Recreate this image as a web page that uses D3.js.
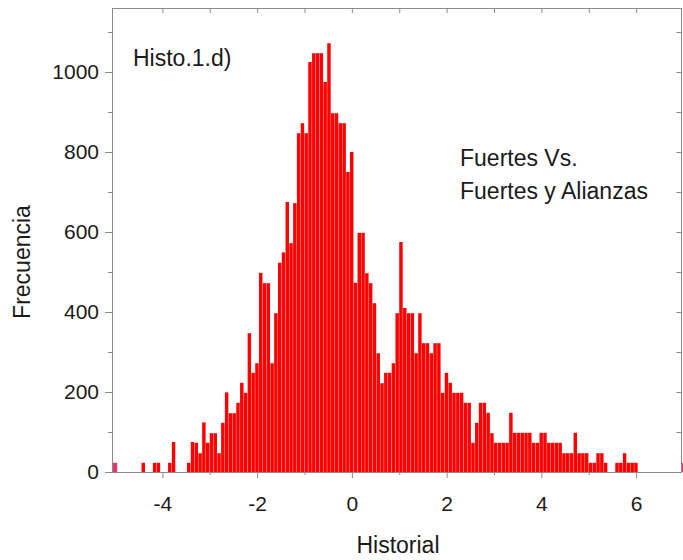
<!DOCTYPE html>
<html>
<head>
<meta charset="utf-8">
<script src="https://cdn.jsdelivr.net/npm/d3@7"></script>
<style>
  html, body { margin: 0; padding: 0; background: #fff; }
  svg { display: block; font-family: "Liberation Sans", Arial, sans-serif; }
</style>
</head>
<body>
<svg id="chart" width="683" height="560"></svg>
<script>
// Histogram: frequency of "Historial" values, bins of width 0.08 starting at -5
const binStart = -5;
const binWidth = 0.08;
const counts = [
  0, 0, 0, 0, 0, 0, 0, 23, 0, 0,
  23, 23, 0, 0, 23, 75, 0, 0, 0, 23,
  75, 73, 47, 124, 73, 97, 97, 47, 123, 199,
  147, 147, 173, 223, 198, 347, 248, 272, 498, 472,
  472, 272, 397, 523, 549, 675, 572, 672, 847, 872,
  847, 1025, 1047, 1047, 1047, 975, 1072, 897, 897, 872,
  872, 750, 800, 473, 598, 598, 497, 472, 422, 297,
  222, 248, 248, 272, 397, 575, 410, 397, 397, 297,
  397, 322, 322, 297, 322, 322, 198, 248, 223, 198,
  198, 198, 173, 173, 73, 123, 173, 173, 148, 97,
  73, 73, 73, 73, 148, 98, 98, 98, 98, 98,
  73, 73, 98, 98, 73, 73, 73, 73, 47, 47,
  47, 98, 47, 47, 47, 23, 23, 47, 47, 23,
  0, 0, 23, 23, 47, 23, 23, 23
];
// Out-of-range counts shown at both ends of the axis
const edgeX = [-5, 7];
const edgeCounts = [23, 23];

const xTicks = [-4, -2, 0, 2, 4, 6];
const xMinorTicks = [-5, -3, -1, 1, 3, 5, 7];
const yTicks = [0, 200, 400, 600, 800, 1000];
const yMinorTicks = [100, 300, 500, 700, 900, 1100];

const title = "Histo.1.d)";
const noteLines = ["Fuertes Vs.", "Fuertes y Alianzas"];
const xLabel = "Historial";
const yLabel = "Frecuencia";

const svg = d3.select("#chart");
const frame = { left: 112, right: 682, top: 8, bottom: 472 };

const x = d3.scaleLinear().domain([-5, 7]).range([115, 683.5]);
const y = d3.scaleLinear().domain([0, 1160]).range([frame.bottom, frame.top]);

const bins = counts.map((c, i) => ({
  x0: binStart + i * binWidth,
  x1: binStart + (i + 1) * binWidth,
  count: c
})).filter(d => d.count > 0);

svg.append("defs").append("clipPath").attr("id", "plotClip")
  .append("rect")
  .attr("x", frame.left).attr("y", frame.top)
  .attr("width", 683 - frame.left)
  .attr("height", frame.bottom - frame.top);

const plot = svg.append("g").attr("clip-path", "url(#plotClip)");

plot.selectAll("rect.bar")
  .data(bins)
  .join("rect")
  .attr("class", "bar")
  .attr("x", d => x(d.x0))
  .attr("width", d => x(d.x1) - x(d.x0) - 0.35)
  .attr("y", d => y(d.count))
  .attr("height", d => y(0) - y(d.count))
  .attr("fill", "#ff0000");

plot.selectAll("rect.edge")
  .data(edgeX.map((v, i) => ({ v, c: edgeCounts[i] })))
  .join("rect")
  .attr("class", "edge")
  .attr("x", d => x(d.v) - 2.2)
  .attr("width", 4.4)
  .attr("y", d => y(d.c))
  .attr("height", d => y(0) - y(d.c))
  .attr("fill", "#e23a6e");

// Frame
const frameColor = "#8a8a8a";
svg.append("rect")
  .attr("x", frame.left + 0.5).attr("y", frame.top + 0.5)
  .attr("width", frame.right - frame.left - 1)
  .attr("height", frame.bottom - frame.top)
  .attr("fill", "none")
  .attr("stroke", frameColor)
  .attr("stroke-width", 1);

// Bottom axis (ticks outward)
const bottom = svg.append("g")
  .attr("transform", `translate(0,${frame.bottom})`)
  .call(d3.axisBottom(x).tickValues(xTicks).tickSize(6).tickPadding(18)
    .tickFormat(d => d < 0 ? "-" + Math.abs(d) : d));
svg.append("g")
  .attr("transform", `translate(0,${frame.bottom})`)
  .call(d3.axisBottom(x).tickValues(xMinorTicks.filter(v => x(v) > frame.left + 4 && x(v) < frame.right - 2)).tickSize(3).tickFormat(""));

// Top mirrored ticks (inward)
svg.append("g")
  .attr("transform", `translate(0,${frame.top})`)
  .call(d3.axisBottom(x).tickValues(xTicks.concat(xMinorTicks).filter(v => x(v) > frame.left + 4 && x(v) < frame.right - 2)).tickSize(5).tickFormat(""));

// Left axis (ticks outward)
svg.append("g")
  .attr("transform", `translate(${frame.left},0)`)
  .call(d3.axisLeft(y).tickValues(yTicks).tickSize(7).tickPadding(6).tickFormat(d3.format("d")));
svg.append("g")
  .attr("transform", `translate(${frame.left},0)`)
  .call(d3.axisLeft(y).tickValues(yMinorTicks).tickSize(4).tickFormat(""));

// Right mirrored ticks (inward)
svg.append("g")
  .attr("transform", `translate(${frame.right - 0.5},0)`)
  .call(d3.axisLeft(y).tickValues(yTicks.concat(yMinorTicks)).tickSize(5).tickFormat(""));

svg.selectAll(".domain").remove();
svg.selectAll(".tick line").attr("stroke", frameColor);
svg.selectAll(".tick text")
  .attr("fill", "#1a1a1a")
  .style("font-size", "21px")
  .style("font-family", "'Liberation Sans', Arial, sans-serif");

// Labels
svg.append("text")
  .attr("x", 133).attr("y", 66)
  .attr("fill", "#1a1a1a")
  .style("font-size", "23px")
  .text(title);

svg.append("g").selectAll("text")
  .data(noteLines)
  .join("text")
  .attr("x", 460)
  .attr("y", (d, i) => 166 + i * 33)
  .attr("fill", "#1a1a1a")
  .style("font-size", "23px")
  .text(d => d);

svg.append("text")
  .attr("x", 398).attr("y", 553)
  .attr("text-anchor", "middle")
  .attr("fill", "#1a1a1a")
  .style("font-size", "23px")
  .text(xLabel);

svg.append("text")
  .attr("transform", "translate(30,262) rotate(-90)")
  .attr("text-anchor", "middle")
  .attr("fill", "#1a1a1a")
  .style("font-size", "23px")
  .text(yLabel);
</script>
</body>
</html>
